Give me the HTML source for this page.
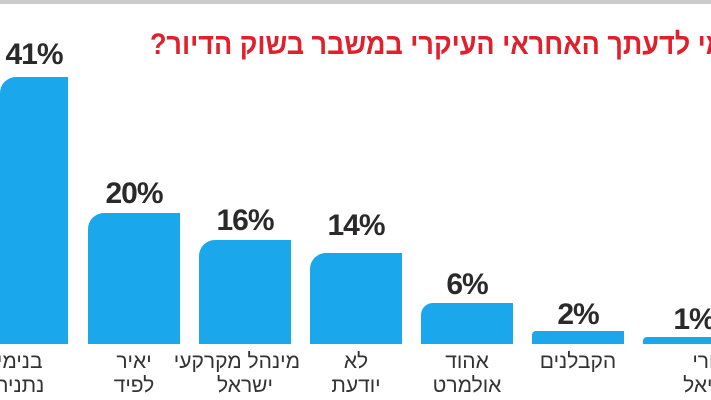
<!DOCTYPE html>
<html><head><meta charset="utf-8"><style>
body{margin:0;width:711px;height:400px;overflow:hidden;background:#fff;position:relative;font-family:"Liberation Sans","Noto Sans CJK JP",sans-serif}
.b{position:absolute;background:#1aa7ec;bottom:56px;border-top-left-radius:16px}
.p{position:absolute;font-weight:bold;font-size:30px;color:#2a2a2a;text-align:center;width:92px;letter-spacing:-1px}
.l{position:absolute;top:350px;font-size:21px;color:#333;text-align:center;width:110px;line-height:24px;direction:rtl;white-space:nowrap}
</style></head><body>
<div style="position:absolute;top:0;left:0;width:711px;height:4px;background:#ccc"></div>
<div style="position:absolute;top:28px;right:-14px;font-size:30px;font-weight:bold;color:#e0202c;direction:rtl;white-space:nowrap;transform:scaleX(0.9);transform-origin:right">מי לדעתך האחראי העיקרי במשבר בשוק הדיור?</div>
<div class="b" style="left:0;width:68px;top:77px"></div>
<div class="b" style="left:88px;width:92px;top:213px"></div>
<div class="b" style="left:199px;width:92px;top:240px"></div>
<div class="b" style="left:310px;width:92px;top:253px"></div>
<div class="b" style="left:421px;width:92px;top:303px;border-top-left-radius:12px"></div>
<div class="b" style="left:532px;width:92px;top:331px;border-top-left-radius:4px"></div>
<div class="b" style="left:643px;width:68px;top:337px;border-top-left-radius:4px"></div>
<div class="p" style="left:-12px;top:38px">41%</div>
<div class="p" style="left:88px;top:177px">20%</div>
<div class="p" style="left:199px;top:204px">16%</div>
<div class="p" style="left:310px;top:209px">14%</div>
<div class="p" style="left:421px;top:268px">6%</div>
<div class="p" style="left:532px;top:298px">2%</div>
<div class="p" style="left:648px;top:303px">1%</div>
<div class="l" style="left:-38px">בנימין<br>נתניהו</div>
<div class="l" style="left:79px">יאיר<br>לפיד</div>
<div class="l" style="left:190px">מינהל מקרקעי<br>ישראל</div>
<div class="l" style="left:301px">לא<br>יודעת</div>
<div class="l" style="left:412px">אהוד<br>אולמרט</div>
<div class="l" style="left:523px">הקבלנים</div>
<div class="l" style="left:655px">אורי<br>אריאל</div>
</body></html>
